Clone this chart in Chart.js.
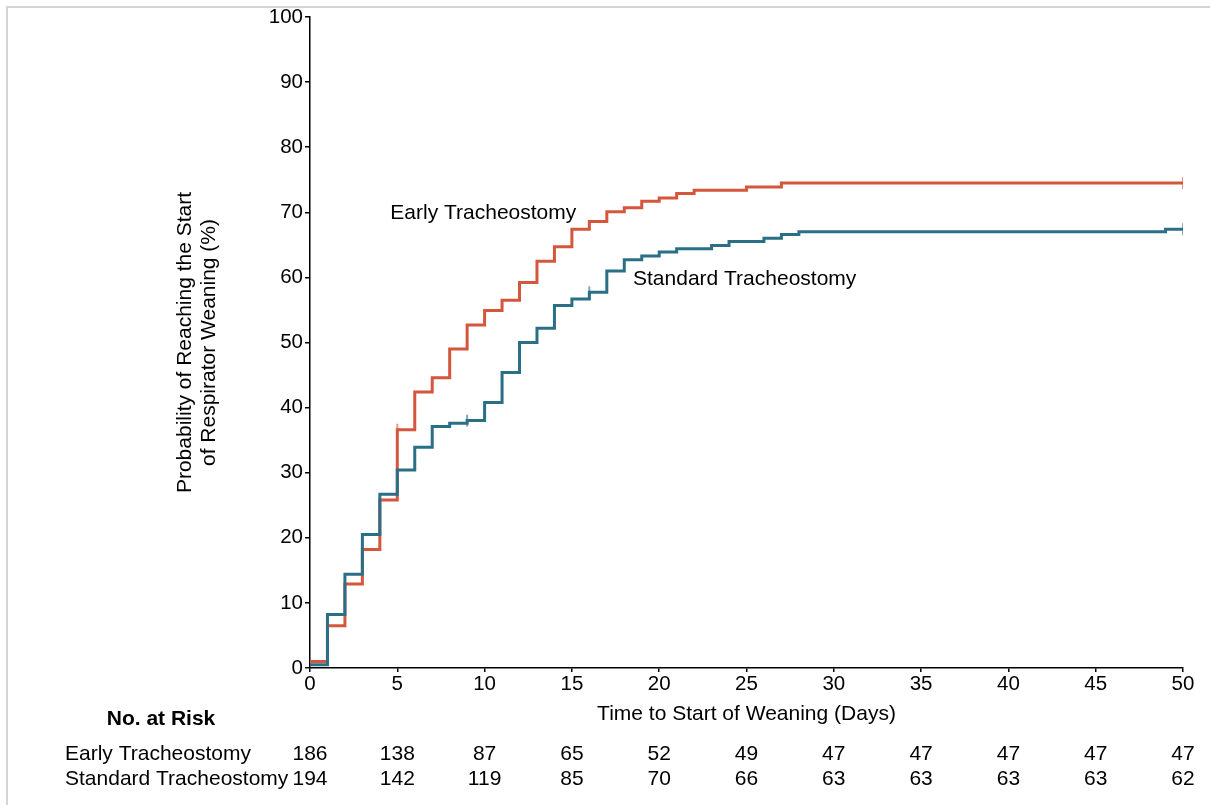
<!DOCTYPE html>
<html>
<head>
<meta charset="utf-8">
<script src="https://cdn.jsdelivr.net/npm/chart.js@4.4.1/dist/chart.umd.min.js"></script>
<style>
  html, body { margin: 0; padding: 0; background: #fff; }
  #wrap { width: 1210px; height: 805px; position: relative; }
</style>
</head>
<body>
<div id="wrap"><canvas id="c" width="1210" height="805"></canvas></div>
<script>
// ---- data ----
const timesEarly = [0,1,2,3,4,5,6,7,8,9,10,11,12,13,14,15,16,17,18,19,20,21,22,25,27,50];
const probEarly  = [1.0,6.5,12.9,18.2,25.8,36.6,42.4,44.6,49.0,52.7,54.9,56.5,59.2,62.5,64.7,67.4,68.6,70.1,70.7,71.7,72.2,72.9,73.4,73.9,74.5,74.5];

const timesStd = [0,1,2,3,4,5,6,7,8,9,10,11,12,13,14,15,16,17,18,19,20,21,23,24,26,27,28,49,50];
const probStd  = [0.5,8.2,14.4,20.5,26.7,30.4,33.9,37.1,37.6,38.0,40.8,45.4,50.0,52.2,55.7,56.7,57.7,61.0,62.7,63.3,63.9,64.4,64.9,65.5,66.0,66.6,67.0,67.4,67.4];

const censorEarlyT = [5, 50];
const censorEarlyV = [36.6, 74.5];
const censorStdT = [9, 16, 50];
const censorStdV = [38.0, 57.7, 67.4];

const riskTimes = [0,5,10,15,20,25,30,35,40,45,50];
const riskEarly = [186,138,87,65,52,49,47,47,47,47,47];
const riskStd   = [194,142,119,85,70,66,63,63,63,63,62];

const groupNames = ['Early Tracheostomy', 'Standard Tracheostomy'];
const xTitle = 'Time to Start of Weaning (Days)';
const yTitle = ['Probability of Reaching the Start', 'of Respirator Weaning (%)'];
const riskTitle = 'No. at Risk';

// ---- styles ----
const RED = '#D4573D';
const BLUE = '#2B6F87';
const FONT = '"Liberation Sans", Arial, sans-serif';

function pts(t, v) { return t.map((x, i) => ({ x: x, y: v[i] })); }

const extras = {
  id: 'extras',
  afterDraw(chart) {
    const ctx = chart.ctx;
    const xs = chart.scales.x, ys = chart.scales.y;
    const ca = chart.chartArea;
    ctx.save();
    // frame lines
    ctx.strokeStyle = '#c8c8c8';
    ctx.lineWidth = 1.5;
    ctx.beginPath();
    ctx.moveTo(7, 805); ctx.lineTo(7, 7); ctx.lineTo(1210, 7);
    ctx.stroke();

    ctx.fillStyle = '#000';
    ctx.font = '21px ' + FONT;
    // y title
    ctx.save();
    ctx.translate(196, (ca.top + ca.bottom) / 2);
    ctx.rotate(-Math.PI / 2);
    ctx.textAlign = 'center';
    ctx.textBaseline = 'middle';
    ctx.fillText(yTitle[0], 0, -11);
    ctx.fillText(yTitle[1], 0, 13);
    ctx.restore();

    // x title
    ctx.textAlign = 'center';
    ctx.textBaseline = 'middle';
    ctx.fillText(xTitle, (ca.left + ca.right) / 2, 714);

    // in-plot labels
    ctx.textAlign = 'left';
    ctx.fillText(groupNames[0], xs.getPixelForValue(4.6), ys.getPixelForValue(69.8));
    ctx.fillText(groupNames[1], xs.getPixelForValue(18.5), ys.getPixelForValue(59.7));

    // risk table
    ctx.font = 'bold 21px ' + FONT;
    ctx.textAlign = 'center';
    ctx.fillText(riskTitle, 161, 719);
    ctx.font = '21px ' + FONT;
    ctx.textAlign = 'left';
    ctx.fillText(groupNames[0], 65, 754);
    ctx.fillText(groupNames[1], 65, 779);
    ctx.textAlign = 'center';
    riskTimes.forEach((t, i) => {
      const px = xs.getPixelForValue(t);
      ctx.fillText(String(riskEarly[i]), px, 754);
      ctx.fillText(String(riskStd[i]), px, 779);
    });
    ctx.restore();
  }
};

new Chart(document.getElementById('c'), {
  type: 'line',
  data: {
    datasets: [
      { label: groupNames[0], data: pts(timesEarly, probEarly), borderColor: RED, borderWidth: 3,
        stepped: true, pointRadius: 0, fill: false, order: 2 },
      { label: groupNames[1], data: pts(timesStd, probStd), borderColor: BLUE, borderWidth: 3,
        stepped: true, pointRadius: 0, fill: false, order: 1 },
      { type: 'scatter', label: 'censor std', data: pts(censorStdT, censorStdV),
        pointStyle: 'line', rotation: 90, pointRadius: 6, borderWidth: 2,
        borderColor: 'rgba(43,111,135,0.6)', backgroundColor: 'rgba(43,111,135,0.6)', order: 0 },
      { type: 'scatter', label: 'censor early', data: pts(censorEarlyT, censorEarlyV),
        pointStyle: 'line', rotation: 90, pointRadius: 6, borderWidth: 2,
        borderColor: 'rgba(212,87,61,0.6)', backgroundColor: 'rgba(212,87,61,0.6)', order: 0 }
    ]
  },
  options: {
    responsive: false,
    animation: false,
    events: [],
    layout: { padding: { left: 0, top: 17, right: 27, bottom: 0 } },
    plugins: { legend: { display: false }, tooltip: { enabled: false } },
    scales: {
      x: {
        type: 'linear', min: 0, max: 50,
        afterFit: s => { s.height = 137; },
        border: { display: true, color: '#000', width: 1.5 },
        grid: { display: true, drawOnChartArea: false, drawTicks: true, tickLength: 4, color: '#000', lineWidth: 1.5 },
        ticks: { stepSize: 5, color: '#000', font: { family: FONT, size: 20.5 }, padding: 0, maxRotation: 0 }
      },
      y: {
        type: 'linear', min: 0, max: 100,
        afterFit: s => { s.width = 310; },
        border: { display: true, color: '#000', width: 1.5 },
        grid: { display: true, drawOnChartArea: false, drawTicks: true, tickLength: 5, color: '#000', lineWidth: 1.5 },
        ticks: { stepSize: 10, color: '#000', font: { family: FONT, size: 20.5 }, padding: 2 }
      }
    }
  },
  plugins: [extras]
});
</script>
</body>
</html>
